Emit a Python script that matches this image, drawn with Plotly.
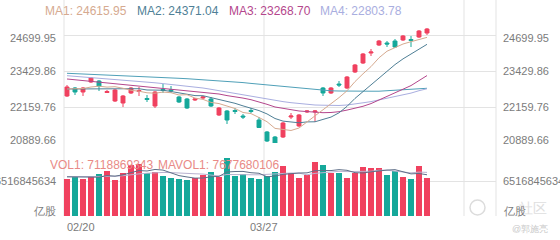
import plotly.graph_objects as go

W, H = 560, 240

# ---------------- data ----------------
tick_idx = [0, 25]
tick_text = ["02/20", "03/27"]

opens = [22548, 22830, 22689, 23042, 23077, 22671, 22371, 22301, 22654, 22706,
         22460, 22195, 22777, 22766, 22513, 22442, 22407, 22477, 22442, 21878,
         22019, 22036, 21842, 22036, 21701, 21278, 21101, 21101, 21807, 21490,
         21983, 21983, 22830, 22654, 22971, 22830, 23395, 23712, 24065, 24347,
         24418, 24488, 24524, 24541, 24629, 24770]
highs = [22936, 22865, 22865, 23218, 23112, 22760, 22795, 22583, 22865, 22865,
         22583, 22724, 22971, 22901, 22548, 22477, 22477, 22548, 22513, 22160,
         22054, 22125, 21913, 22125, 21807, 21313, 21137, 21631, 21948, 21913,
         22054, 22054, 22865, 22865, 23077, 23253, 23677, 24065, 24206, 24524,
         24488, 24559, 24700, 24665, 24876, 24947]
lows = [22513, 22583, 22548, 23007, 22724, 22654, 22336, 22160, 22618, 22548,
        22336, 22125, 22654, 22654, 22301, 22089, 22371, 22442, 22160, 21842,
        21560, 21913, 21736, 21948, 21419, 20925, 20713, 21066, 21736, 21454,
        21948, 21631, 22548, 22618, 22865, 22795, 23359, 23677, 23959, 24312,
        24277, 24241, 24488, 24277, 24594, 24700]
closes = [22865, 22689, 22830, 23183, 22901, 22706, 22760, 22548, 22830, 22742,
          22424, 22689, 22742, 22731, 22336, 22125, 22442, 22513, 22195, 22125,
          21701, 22001, 21807, 22001, 21436, 20960, 20819, 21595, 21842, 21878,
          22019, 22019, 22654, 22830, 22936, 23218, 23642, 24030, 24100, 24488,
          24382, 24277, 24665, 24506, 24841, 24912]

ma1 = [22795, 22795, 22812, 22865, 22894, 22862, 22876, 22820, 22749, 22717,
       22661, 22647, 22686, 22664, 22583, 22594, 22474, 22428, 22322, 22280,
       22195, 22107, 21966, 21927, 21789, 21641, 21405, 21362, 21331, 21419,
       21631, 21870, 22082, 22280, 22491, 22731, 23056, 23331, 23585, 23896,
       24128, 24255, 24382, 24464, 24534, 24615.95]
ma2 = [22795, 22795, 22795, 22812, 22812, 22812, 22812, 22812, 22812, 22805,
       22760, 22760, 22752, 22707, 22650, 22594, 22562, 22558, 22495, 22431,
       22361, 22290, 22199, 22125, 22033, 21916, 21754, 21662, 21627, 21602,
       21634, 21638, 21722, 21804, 21955, 22181, 22463, 22707, 22932, 23194,
       23430, 23656, 23857, 24023, 24213, 24371.04]
ma3 = [23148, 23119, 23091, 23063, 23035, 23007, 22982, 22954, 22925, 22897,
       22869, 22841, 22812, 22784, 22756, 22731, 22703, 22675, 22647, 22618,
       22562, 22527, 22474, 22417, 22343, 22255, 22160, 22110, 22061, 22019,
       21998, 21966, 21959, 21966, 21994, 22051, 22110, 22185, 22280, 22400,
       22534, 22647, 22788, 22915, 23084, 23268.70]
ma4 = [23264, 23243, 23225, 23204, 23186, 23165, 23141, 23116, 23091, 23067,
       23042, 23014, 22985, 22957, 22929, 22901, 22865, 22830, 22784, 22735,
       22689, 22636, 22583, 22530, 22477, 22432, 22389, 22350, 22312, 22280,
       22252, 22230, 22223, 22213, 22213, 22230, 22259, 22308, 22350, 22410,
       22474, 22527, 22594, 22650, 22735, 22803.78]
ma_long = [23349, 23338, 23324, 23314, 23299, 23289, 23275, 23264, 23250, 23239,
           23225, 23211, 23197, 23186, 23172, 23158, 23141, 23126, 23109, 23095,
           23077, 23049, 23021, 22992, 22964, 22936, 22908, 22883, 22855, 22830,
           22802, 22777, 22756, 22731, 22724, 22717, 22714, 22714, 22717, 22717,
           22731, 22746, 22760, 22781, 22798, 22820]

volumes = [6.83e9, 7.21e9, 6.83e9, 7.45e9, 7.76e9, 8.38e9, 6.70e9, 8.06e9, 9.50e9, 9.68e9,
           7.95e9, 8.14e9, 7.50e9, 7.13e9, 6.89e9, 6.70e9, 7.02e9, 7.63e9, 8.25e9, 7.32e9,
           1.074e10, 7.45e9, 7.76e9, 7.02e9, 6.83e9, 7.45e9, 8.14e9, 9.31e9, 7.95e9, 7.13e9,
           7.63e9, 1.011e10, 9.50e9, 7.95e9, 7.95e9, 7.02e9, 7.95e9, 9.18e9, 8.99e9, 8.99e9,
           7.63e9, 8.38e9, 7.32e9, 6.89e9, 9.37e9, 7118869343]
mavol1 = [7.30e9, 7.30e9, 7.25e9, 7.25e9, 7.22e9, 7.53e9, 7.42e9, 7.67e9, 8.08e9, 8.46e9,
          8.38e9, 8.67e9, 8.55e9, 8.08e9, 7.52e9, 7.27e9, 7.05e9, 7.07e9, 7.30e9, 7.38e9,
          8.19e9, 8.28e9, 8.30e9, 8.06e9, 7.96e9, 7.30e9, 7.44e9, 7.75e9, 7.94e9, 8.00e9,
          8.03e9, 8.43e9, 8.46e9, 8.46e9, 8.63e9, 8.51e9, 8.07e9, 8.01e9, 8.22e9, 8.43e9,
          8.55e9, 8.63e9, 8.26e9, 7.84e9, 7.92e9, 7677680106]
mavol2 = [7.30e9, 7.30e9, 7.30e9, 7.30e9, 7.30e9, 7.40e9, 7.40e9, 7.50e9, 7.60e9, 7.84e9,
          7.96e9, 8.05e9, 8.11e9, 8.08e9, 7.99e9, 7.83e9, 7.86e9, 7.81e9, 7.69e9, 7.45e9,
          7.73e9, 7.67e9, 7.69e9, 7.68e9, 7.67e9, 7.75e9, 7.86e9, 8.03e9, 8.00e9, 7.98e9,
          7.67e9, 7.94e9, 8.11e9, 8.20e9, 8.32e9, 8.27e9, 8.25e9, 8.24e9, 8.34e9, 8.53e9,
          8.53e9, 8.35e9, 8.14e9, 8.03e9, 8.18e9, 8.12e9]

price_ticks = [24699.95, 23429.86, 22159.76, 20889.66]
price_tick_text = ["24699.95", "23429.86", "22159.76", "20889.66"]
vol_tick = 6516845634
vol_unit = "亿股"

ma_names = ["MA1", "MA2", "MA3", "MA4"]
ma_last = ["24615.95", "24371.04", "23268.70", "22803.78"]

# ---------------- styles ----------------
UP = "#f0415f"
DOWN = "#15a89a"
MA_COLORS = ["#d6aa90", "#4f7f96", "#b4468c", "#a9aee0"]
LONG_COLOR = "#4fa0b8"
GRID = "#e3e3e3"
LBL = "#7b7b7b"
FONT = "Liberation Sans, Arial, sans-serif"

def px_x(p):
    return p / W

def px_y(p):
    return 1 - p / H

n = len(closes)
xs = list(range(n))

fig = go.Figure()

fig.add_trace(go.Candlestick(
    x=xs, open=opens, high=highs, low=lows, close=closes,
    increasing=dict(line=dict(color=UP, width=1), fillcolor=UP),
    decreasing=dict(line=dict(color=DOWN, width=1), fillcolor=DOWN),
    whiskerwidth=0, xaxis="x", yaxis="y", hoverinfo="skip"))

for vals, col in [(ma_long, LONG_COLOR), (ma4, MA_COLORS[3]), (ma3, MA_COLORS[2]),
                  (ma2, MA_COLORS[1]), (ma1, MA_COLORS[0])]:
    fig.add_trace(go.Scatter(x=xs, y=vals, mode="lines",
                             line=dict(color=col, width=1), xaxis="x", yaxis="y",
                             hoverinfo="skip"))

bar_colors = [UP if c >= o else DOWN for o, c in zip(opens, closes)]
fig.add_trace(go.Bar(x=xs, y=volumes, marker=dict(color=bar_colors, line=dict(width=0)),
                     width=0.75, xaxis="x2", yaxis="y2", hoverinfo="skip"))
fig.add_trace(go.Scatter(x=xs, y=mavol2, mode="lines", line=dict(color="#b9b2cf", width=1),
                         xaxis="x2", yaxis="y2", hoverinfo="skip"))
fig.add_trace(go.Scatter(x=xs, y=mavol1, mode="lines", line=dict(color="#5f6f88", width=1),
                         xaxis="x2", yaxis="y2", hoverinfo="skip"))

x_dom = [px_x(64), px_x(496)]
x_rng = [-0.375, 53.625]
price_per_px = (price_ticks[0] - price_ticks[-1]) / 108.0
y_top = price_ticks[0] + 15 * price_per_px
vol_per_px = vol_tick / 35.0

common_x = dict(domain=x_dom, range=x_rng, showgrid=False, showticklabels=False,
                zeroline=False, showline=False, ticks="", fixedrange=True)
fig.update_layout(
    width=W, height=H, margin=dict(l=0, r=0, t=0, b=0),
    paper_bgcolor="white", plot_bgcolor="white", showlegend=False,
    font=dict(family=FONT, size=11, color=LBL),
    xaxis=dict(anchor="y", rangeslider=dict(visible=False), **common_x),
    xaxis2=dict(anchor="y2", matches="x", **common_x),
    yaxis=dict(domain=[px_y(143), px_y(20)], range=[price_ticks[-1], y_top],
               tickvals=price_ticks, showticklabels=False, showgrid=True,
               gridcolor=GRID, gridwidth=1, zeroline=False, ticks=""),
    yaxis2=dict(domain=[px_y(216), px_y(143)], range=[0, 73 * vol_per_px],
                tickvals=[0, vol_tick], showticklabels=False, showgrid=True,
                gridcolor=GRID, gridwidth=1, zeroline=False, ticks=""),
    bargap=0,
)

shapes = []
for xp in [64, 264, 464, 496]:
    shapes.append(dict(type="line", xref="paper", yref="paper",
                       x0=px_x(xp), x1=px_x(xp), y0=px_y(216), y1=1,
                       line=dict(color=GRID, width=1), layer="below"))
# watermark icon
shapes.append(dict(type="circle", xref="paper", yref="paper",
                   x0=px_x(470), x1=px_x(485), y0=px_y(215), y1=px_y(200),
                   line=dict(color="#dcdcdc", width=1.5), layer="above"))
fig.update_layout(shapes=shapes)

ann = []
shifts = [-3, 0, 0, 3]
for v, t, s in zip(price_ticks, price_tick_text, shifts):
    ann.append(dict(x=px_x(58), y=v, xref="paper", yref="y", text=t, showarrow=False,
                    xanchor="right", yanchor="middle", yshift=s,
                    font=dict(size=11, color=LBL)))
    ann.append(dict(x=px_x(501), y=v, xref="paper", yref="y", text=t, showarrow=False,
                    xanchor="left", yanchor="middle", yshift=s,
                    font=dict(size=11, color=LBL)))
ann.append(dict(x=px_x(58), y=vol_tick, xref="paper", yref="y2", text=str(vol_tick),
                showarrow=False, xanchor="right", yanchor="middle", font=dict(size=11, color=LBL)))
ann.append(dict(x=px_x(501), y=vol_tick, xref="paper", yref="y2", text=str(vol_tick),
                showarrow=False, xanchor="left", yanchor="middle", font=dict(size=11, color=LBL)))
ann.append(dict(x=px_x(58), y=px_y(211), xref="paper", yref="paper", text=vol_unit,
                showarrow=False, xanchor="right", yanchor="middle", font=dict(size=11, color=LBL)))

# watermark text (drawn beneath the right unit label)
ann.append(dict(x=px_x(549), y=px_y(208), xref="paper", yref="paper", text="社区",
                showarrow=False, xanchor="right", yanchor="middle",
                font=dict(size=14, color="#dedede")))
ann.append(dict(x=px_x(501), y=px_y(211), xref="paper", yref="paper", text=vol_unit,
                showarrow=False, xanchor="left", yanchor="middle", font=dict(size=11, color=LBL)))

# date labels
ann.append(dict(x=px_x(65), y=px_y(227), xref="paper", yref="paper", text=tick_text[0],
                showarrow=False, xanchor="left", yanchor="middle", font=dict(size=11, color=LBL)))
ann.append(dict(x=tick_idx[1] - 0.375, y=px_y(227), xref="x2", yref="paper", text=tick_text[1],
                showarrow=False, xanchor="center", yanchor="middle", font=dict(size=11, color=LBL)))

# MA legend
leg_x = [43, 135, 227, 318]
for name, val, col, lx in zip(ma_names, ma_last, MA_COLORS, leg_x):
    ann.append(dict(x=px_x(lx), y=px_y(11), xref="paper", yref="paper",
                    text=f"{name}: {val}", showarrow=False, xanchor="left",
                    yanchor="middle", font=dict(size=12, color=col)))

# volume legend
ann.append(dict(x=px_x(48), y=px_y(165), xref="paper", yref="paper",
                text=f"VOL1: {volumes[-1]}", showarrow=False, xanchor="left",
                yanchor="middle", font=dict(size=12, color="#e98a86")))
ann.append(dict(x=px_x(156), y=px_y(165), xref="paper", yref="paper",
                text=f"MAVOL1: {mavol1[-1]}", showarrow=False, xanchor="left",
                yanchor="middle", font=dict(size=12, color="#e98a86")))

# author watermark
ann.append(dict(x=px_x(550), y=px_y(229), xref="paper", yref="paper", text="@郭施亮",
                showarrow=False, xanchor="right", yanchor="middle",
                font=dict(size=9, color="#c8c8c8")))
fig.update_layout(annotations=ann)

fig.write_html("out.html")
